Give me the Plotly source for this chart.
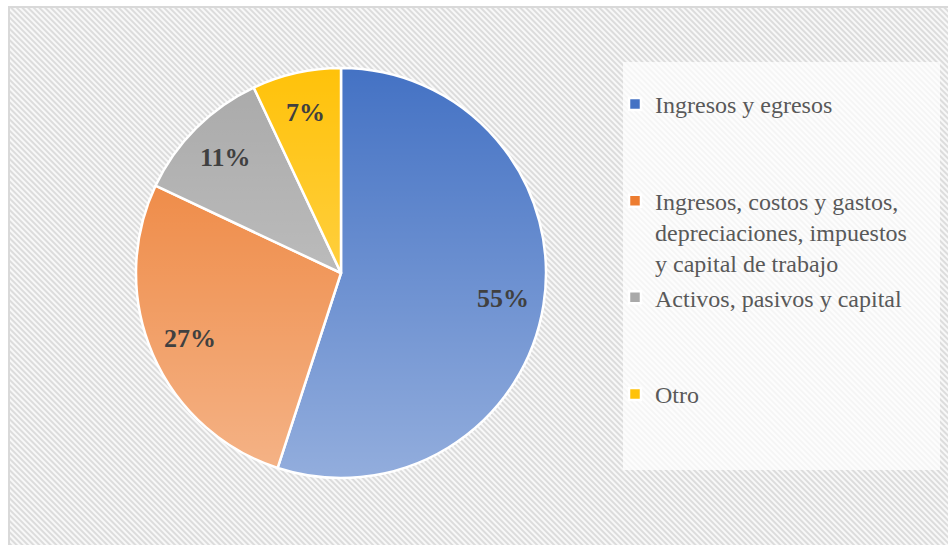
import base64
import math
import plotly.graph_objects as go

# ---- data ----
categories = [
    "Ingresos y egresos",
    "Ingresos, costos y gastos,<br>depreciaciones, impuestos<br>y capital de trabajo",
    "Activos, pasivos y capital",
    "Otro",
]
shares = [55, 27, 11, 7]
legend_padding = ["<br> <br> ", "", "<br> <br> ", "<br> <br> "]

W, H = 948, 545
colors = ["#4472C4", "#ED7D31", "#A9A9A9", "#FFC20A"]

# pie geometry in pixels (style)
cx, cy, r = 341, 273, 205
label_radius = 0.8
serif = "Liberation Serif, Times New Roman, serif"


def px_x(x):
    return x / W


def px_y(y):
    return 1 - y / H


def svg_uri(svg):
    return "data:image/svg+xml;base64," + base64.b64encode(svg.encode()).decode()


# hatched background
bw, bh = 940, 540
hatch_svg = f"""<svg xmlns='http://www.w3.org/2000/svg' width='{bw}' height='{bh}' viewBox='0 0 {bw} {bh}'>
<defs><pattern id='p' patternUnits='userSpaceOnUse' width='4' height='4' patternTransform='rotate(-45)'>
<rect width='4' height='4' fill='#f8f8f8'/><rect width='2' height='4' fill='#dcdcdc'/></pattern></defs>
<rect width='{bw}' height='{bh}' fill='url(#p)'/></svg>"""

# soft vertical gradient sheen over the pie
d = 2 * r
grad_svg = f"""<svg xmlns='http://www.w3.org/2000/svg' width='{d}' height='{d}' viewBox='0 0 {d} {d}'>
<defs><linearGradient id='g' x1='0' y1='0' x2='0' y2='1'>
<stop offset='0' stop-color='#ffffff' stop-opacity='0'/>
<stop offset='1' stop-color='#ffffff' stop-opacity='0.42'/></linearGradient></defs>
<circle cx='{r}' cy='{r}' r='{r}' fill='url(#g)'/></svg>"""

fig = go.Figure(
    go.Pie(
        labels=[c + p for c, p in zip(categories, legend_padding)],
        values=shares,
        sort=False,
        direction="clockwise",
        rotation=0,
        marker=dict(colors=colors, line=dict(color="#ffffff", width=2.5)),
        textinfo="none",
        hoverinfo="label+percent",
        domain=dict(x=[px_x(cx - r), px_x(cx + r)], y=[px_y(cy + r), px_y(cy - r)]),
    )
)

# percentage labels placed at each slice's mid-angle (computed from the data)
total = sum(shares)
annotations = []
cum = 0
for v in shares:
    mid = (cum + v / 2) / total * 2 * math.pi
    cum += v
    lx = cx + label_radius * r * math.sin(mid)
    ly = cy - label_radius * r * math.cos(mid)
    annotations.append(dict(
        x=px_x(lx), y=px_y(ly), xref="paper", yref="paper",
        text=f"<b>{round(v / total * 100)}%</b>", showarrow=False,
        xanchor="center", yanchor="middle",
        font=dict(family=serif, size=26, color="#404040"),
    ))

fig.update_layout(
    width=W,
    height=H,
    margin=dict(l=0, r=0, t=0, b=0),
    paper_bgcolor="#ffffff",
    showlegend=True,
    legend=dict(
        x=px_x(615), y=px_y(82), xanchor="left", yanchor="top",
        bgcolor="rgba(0,0,0,0)", valign="top",
        font=dict(family=serif, size=24, color="#595959"),
        itemclick=False,
    ),
    annotations=annotations,
    images=[
        dict(source=svg_uri(hatch_svg), xref="paper", yref="paper",
             x=px_x(10), y=px_y(8), sizex=bw / W, sizey=bh / H,
             xanchor="left", yanchor="top", sizing="stretch", layer="below"),
        dict(source=svg_uri(grad_svg), xref="paper", yref="paper",
             x=px_x(cx - r), y=px_y(cy - r), sizex=d / W, sizey=d / H,
             xanchor="left", yanchor="top", sizing="stretch", layer="above"),
    ],
    shapes=[
        dict(type="rect", xref="paper", yref="paper", layer="below",
             x0=px_x(9), x1=px_x(960), y0=px_y(7), y1=px_y(560),
             line=dict(color="#d9d9d9", width=2), fillcolor="rgba(0,0,0,0)"),
        dict(type="rect", xref="paper", yref="paper", layer="below",
             x0=px_x(623), x1=px_x(940), y0=px_y(62), y1=px_y(470),
             line=dict(width=0), fillcolor="rgba(255,255,255,0.72)"),
    ],
)

fig.write_html(
    "out.html",
    config={"displayModeBar": False},
    post_script="document.body.style.margin='0';",
)
